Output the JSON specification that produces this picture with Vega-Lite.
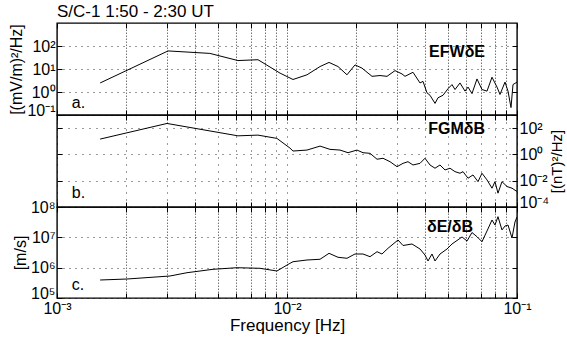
{
  "$schema": "https://vega.github.io/schema/vega-lite/v6.json",
  "padding": {"left": 8, "top": 1, "right": 0, "bottom": 3},
  "spacing": 0,
  "bounds": "flush",
  "config": {
    "font": "Liberation Sans",
    "view": {"stroke": "black", "strokeWidth": 1.4},
    "axis": {
      "labelFont": "Liberation Sans", "labelFontSize": 16, "labelColor": "black", "labelOverlap": false,
      "titleFont": "Liberation Sans", "titleFontSize": 16, "titleFontWeight": "normal", "titleColor": "black",
      "domain": false, "tickColor": "black", "tickSize": -5, "tickWidth": 1, "labelPadding": 7,
      "gridColor": "black", "gridWidth": 0.8, "labelFlush": false
    }
  },
  "datasets": {
    "efw": [
      {"f":0.00154,"v":2.47},{"f":0.00304,"v":61},{"f":0.00462,"v":47.7},{"f":0.00612,"v":23.3},{"f":0.00748,"v":25.3},
      {"f":0.00933,"v":6.6},{"f":0.01062,"v":3.5},{"f":0.01222,"v":5.6},{"f":0.01392,"v":12.8},{"f":0.01523,"v":19.3},
      {"f":0.01666,"v":12.8},{"f":0.01823,"v":5.6},{"f":0.01975,"v":15.1},{"f":0.02119,"v":10.9},{"f":0.02342,"v":4.8},
      {"f":0.02537,"v":5.2},{"f":0.02722,"v":4.8},{"f":0.02949,"v":8.5},{"f":0.03162,"v":6.1},{"f":0.03259,"v":4.8},
      {"f":0.0353,"v":7.2},{"f":0.03787,"v":2.47},{"f":0.03902,"v":2.9},{"f":0.04061,"v":0.92},{"f":0.04185,"v":0.72},
      {"f":0.04401,"v":0.32},{"f":0.04534,"v":0.56},{"f":0.04767,"v":0.72},{"f":0.05012,"v":1.39},{"f":0.05217,"v":2.1},
      {"f":0.05376,"v":1.28},{"f":0.05652,"v":2.47},{"f":0.05942,"v":1.09},{"f":0.06124,"v":1.64},{"f":0.06373,"v":0.85},
      {"f":0.067,"v":3.7},{"f":0.07044,"v":1.28},{"f":0.07406,"v":1.09},{"f":0.07786,"v":4.4},{"f":0.08185,"v":1.64},
      {"f":0.08435,"v":0.78},{"f":0.08868,"v":2.7},{"f":0.09139,"v":1.09},{"f":0.09417,"v":0.21},{"f":0.09607,"v":2.1},
      {"f":0.1,"v":2.7}
    ],
    "fgm": [
      {"f":0.00154,"v":14.7},{"f":0.003008,"v":227},{"f":0.00612,"v":26},{"f":0.00748,"v":29.5},{"f":0.00904,"v":16.6},
      {"f":0.0103,"v":3.05},{"f":0.01062,"v":1.81},{"f":0.01222,"v":2.15},{"f":0.01392,"v":4.3},{"f":0.01538,"v":2.43},
      {"f":0.017,"v":2.15},{"f":0.01842,"v":1.35},{"f":0.02015,"v":2.15},{"f":0.0214,"v":1.35},{"f":0.02296,"v":1.21},
      {"f":0.02463,"v":0.43},{"f":0.02615,"v":0.51},{"f":0.02805,"v":0.28},{"f":0.03008,"v":0.117},{"f":0.03195,"v":0.21},
      {"f":0.03358,"v":0.28},{"f":0.0353,"v":0.157},{"f":0.03787,"v":0.21},{"f":0.03981,"v":0.51},{"f":0.04185,"v":0.157},
      {"f":0.04401,"v":0.089},{"f":0.04626,"v":0.157},{"f":0.04864,"v":0.066},{"f":0.05114,"v":0.089},{"f":0.05376,"v":0.049},
      {"f":0.05652,"v":0.037},{"f":0.05824,"v":0.049},{"f":0.06124,"v":0.0155},{"f":0.06438,"v":0.0275},{"f":0.06768,"v":0.0085},
      {"f":0.07044,"v":0.037},{"f":0.07406,"v":0.0115},{"f":0.07786,"v":0.0027},{"f":0.08023,"v":0.0085},{"f":0.08267,"v":0.00113},
      {"f":0.08604,"v":0.0085},{"f":0.09049,"v":0.0036},{"f":0.09512,"v":0.0027},{"f":0.1,"v":0.0015}
    ],
    "eb": [
      {"f":0.00154,"v":392000},{"f":0.002015,"v":423000},{"f":0.0031,"v":531000},{"f":0.003674,"v":682000},{"f":0.004767,"v":883000},
      {"f":0.006063,"v":997000},{"f":0.007631,"v":953000},{"f":0.00904,"v":776000},{"f":0.0103,"v":1390000},{"f":0.01062,"v":1570000},
      {"f":0.01222,"v":1790000},{"f":0.01392,"v":1890000},{"f":0.01523,"v":2970000},{"f":0.01666,"v":2200000},{"f":0.01823,"v":2040000},
      {"f":0.01975,"v":2820000},{"f":0.0214,"v":2820000},{"f":0.02296,"v":2300000},{"f":0.02463,"v":3360000},{"f":0.02588,"v":2820000},
      {"f":0.02749,"v":4350000},{"f":0.03039,"v":8170000},{"f":0.03195,"v":5380000},{"f":0.03495,"v":6030000},{"f":0.03787,"v":4120000},
      {"f":0.03981,"v":2610000},{"f":0.04102,"v":1660000},{"f":0.0427,"v":2820000},{"f":0.04401,"v":1660000},{"f":0.04626,"v":2820000},
      {"f":0.04963,"v":4120000},{"f":0.05217,"v":6030000},{"f":0.05484,"v":7860000},{"f":0.05767,"v":10300000},{"f":0.06063,"v":7570000},
      {"f":0.06373,"v":14400000},{"f":0.067,"v":10500000},{"f":0.07044,"v":7180000},{"f":0.07406,"v":16200000},{"f":0.07786,"v":37300000},
      {"f":0.08023,"v":25500000},{"f":0.08267,"v":47900000},{"f":0.08604,"v":17500000},{"f":0.08868,"v":23600000},{"f":0.09139,"v":25500000},
      {"f":0.09512,"v":9500000},{"f":0.098,"v":32000000},{"f":0.1,"v":46800000}
    ]
  },
  "vconcat": [
    {
      "width": 460, "height": 92,
      "title": {"text": "S/C-1 1:50 - 2:30 UT", "anchor": "start", "frame": "group", "fontSize": 17, "fontWeight": "normal", "offset": 2, "color": "black", "font": "Liberation Sans"},
      "layer": [
        {
          "data": {"name": "efw"},
          "mark": {"type": "line", "color": "black", "strokeWidth": 1, "clip": true},
          "encoding": {
            "x": {"field": "f", "type": "quantitative", "scale": {"type": "log", "domain": [0.001, 0.1]},
                  "axis": {"orient": "bottom", "values": [0.001,0.002,0.003,0.004,0.005,0.006,0.007,0.008,0.009,0.01,0.02,0.03,0.04,0.05,0.06,0.07,0.08,0.09,0.1], "labels": false, "title": null, "grid": true, "gridDash": [1.5, 1.5], "gridColor": "#333", "gridOpacity": 0.85}},
            "y": {"field": "v", "type": "quantitative", "scale": {"type": "log", "domain": [0.1, 200]},
                  "axis": {"orient": "left", "values": [0.1, 1, 10, 100], "labelExpr": "datum.value >= 99 ? '10²' : datum.value >= 9 ? '10¹' : datum.value >= 0.9 ? '10⁰' : '10⁻¹'",
                           "labelBaseline": {"condition": {"test": "datum.value < 0.5", "value": "alphabetic"}, "value": "middle"},
                           "title": "[(mV/m)²/Hz]", "titlePadding": 2, "grid": true, "gridDash": [1, 5]}}
          }
        },
        {
          "data": {"name": "efw"},
          "mark": {"type": "line", "opacity": 0},
          "encoding": {
            "x": {"field": "f", "type": "quantitative", "axis": {"orient": "top", "values": [0.001,0.002,0.003,0.004,0.005,0.006,0.007,0.008,0.009,0.01,0.02,0.03,0.04,0.05,0.06,0.07,0.08,0.09,0.1], "labels": false, "title": null, "grid": false}},
            "y": {"field": "v", "type": "quantitative", "axis": {"orient": "right", "values": [0.1, 1, 10, 100], "labels": false, "title": null, "grid": false}}
          }
        },
        {
          "data": {"values": [{}]},
          "mark": {"type": "text", "align": "left", "baseline": "middle", "fontSize": 16, "color": "black"},
          "encoding": {"x": {"datum": 0.00116, "type": "quantitative", "axis": null}, "y": {"datum": 0.32, "type": "quantitative", "axis": null}, "text": {"value": "a."}}
        },
        {
          "data": {"values": [{}]},
          "mark": {"type": "text", "align": "right", "baseline": "middle", "fontSize": 16, "fontWeight": "bold", "color": "black"},
          "encoding": {"x": {"datum": 0.0726, "type": "quantitative", "axis": null}, "y": {"datum": 56, "type": "quantitative", "axis": null}, "text": {"value": "EFWδE"}}
        }
      ],
      "resolve": {"axis": {"x": "independent", "y": "independent"}}
    },
    {
      "width": 460, "height": 92,
      "layer": [
        {
          "data": {"name": "fgm"},
          "mark": {"type": "line", "color": "black", "strokeWidth": 1, "clip": true},
          "encoding": {
            "x": {"field": "f", "type": "quantitative", "scale": {"type": "log", "domain": [0.001, 0.1]},
                  "axis": {"orient": "bottom", "values": [0.001,0.002,0.003,0.004,0.005,0.006,0.007,0.008,0.009,0.01,0.02,0.03,0.04,0.05,0.06,0.07,0.08,0.09,0.1], "labels": false, "title": null, "grid": true, "gridDash": [1, 6], "gridOpacity": 1}},
            "y": {"field": "v", "type": "quantitative", "scale": {"type": "log", "domain": [0.0001, 1000]},
                  "axis": {"orient": "right", "values": [0.0001, 0.01, 1, 100], "labelExpr": "datum.value >= 99 ? '10²' : datum.value >= 0.9 ? '10⁰' : datum.value >= 0.009 ? '10⁻²' : '10⁻⁴'",
                           "labelBaseline": {"condition": {"test": "datum.value < 0.001", "value": "alphabetic"}, "value": "middle"},
                           "title": "[(nT)²/Hz]", "titleFontSize": 15, "titleAngle": 270, "titleBaseline": "top", "titlePadding": 1, "grid": true, "gridDash": [1, 6]}}
          }
        },
        {
          "data": {"name": "fgm"},
          "mark": {"type": "line", "opacity": 0},
          "encoding": {
            "x": {"field": "f", "type": "quantitative", "axis": {"orient": "top", "values": [0.001,0.002,0.003,0.004,0.005,0.006,0.007,0.008,0.009,0.01,0.02,0.03,0.04,0.05,0.06,0.07,0.08,0.09,0.1], "labels": false, "title": null, "grid": false}},
            "y": {"field": "v", "type": "quantitative", "axis": {"orient": "left", "values": [0.0001, 0.01, 1, 100], "labels": false, "title": null, "grid": false}}
          }
        },
        {
          "data": {"values": [{}]},
          "mark": {"type": "text", "align": "left", "baseline": "middle", "fontSize": 16, "color": "black"},
          "encoding": {"x": {"datum": 0.00116, "type": "quantitative", "axis": null}, "y": {"datum": 0.0012, "type": "quantitative", "axis": null}, "text": {"value": "b."}}
        },
        {
          "data": {"values": [{}]},
          "mark": {"type": "text", "align": "right", "baseline": "middle", "fontSize": 16, "fontWeight": "bold", "color": "black"},
          "encoding": {"x": {"datum": 0.0726, "type": "quantitative", "axis": null}, "y": {"datum": 84, "type": "quantitative", "axis": null}, "text": {"value": "FGMδB"}}
        }
      ],
      "resolve": {"axis": {"x": "independent", "y": "independent"}}
    },
    {
      "width": 460, "height": 91,
      "layer": [
        {
          "data": {"name": "eb"},
          "mark": {"type": "line", "color": "black", "strokeWidth": 1, "clip": true},
          "encoding": {
            "x": {"field": "f", "type": "quantitative", "scale": {"type": "log", "domain": [0.001, 0.1]},
                  "axis": {"orient": "bottom", "values": [0.001,0.002,0.003,0.004,0.005,0.006,0.007,0.008,0.009,0.01,0.02,0.03,0.04,0.05,0.06,0.07,0.08,0.09,0.1], "labelExpr": "datum.value == 0.001 ? '10⁻³' : datum.value == 0.01 ? '10⁻²' : datum.value == 0.1 ? '10⁻¹' : ''", "title": "Frequency [Hz]", "titleFontSize": 17, "titlePadding": 1, "grid": true, "gridDash": [1.5, 1.5], "gridColor": "#333", "gridOpacity": 0.85}},
            "y": {"field": "v", "type": "quantitative", "scale": {"type": "log", "domain": [100000, 100000000]},
                  "axis": {"orient": "left", "values": [100000, 1000000, 10000000, 100000000], "labelExpr": "datum.value >= 9e7 ? '10⁸' : datum.value >= 9e6 ? '10⁷' : datum.value >= 9e5 ? '10⁶' : '10⁵'",
                           "labelBaseline": {"condition": {"test": "datum.value < 500000", "value": "alphabetic"}, "value": "middle"},
                           "title": "[m/s]", "titlePadding": 2, "grid": true, "gridDash": [1, 5]}}
          }
        },
        {
          "data": {"name": "eb"},
          "mark": {"type": "line", "opacity": 0},
          "encoding": {
            "x": {"field": "f", "type": "quantitative", "axis": {"orient": "top", "values": [0.001,0.002,0.003,0.004,0.005,0.006,0.007,0.008,0.009,0.01,0.02,0.03,0.04,0.05,0.06,0.07,0.08,0.09,0.1], "labels": false, "title": null, "grid": false}},
            "y": {"field": "v", "type": "quantitative", "axis": {"orient": "right", "values": [100000, 1000000, 10000000, 100000000], "labels": false, "title": null, "grid": false}}
          }
        },
        {
          "data": {"values": [{}]},
          "mark": {"type": "text", "align": "left", "baseline": "middle", "fontSize": 16, "color": "black"},
          "encoding": {"x": {"datum": 0.00116, "type": "quantitative", "axis": null}, "y": {"datum": 268000, "type": "quantitative", "axis": null}, "text": {"value": "c."}}
        },
        {
          "data": {"values": [{}]},
          "mark": {"type": "text", "align": "right", "baseline": "middle", "fontSize": 16, "fontWeight": "bold", "color": "black"},
          "encoding": {"x": {"datum": 0.0644, "type": "quantitative", "axis": null}, "y": {"datum": 21900000, "type": "quantitative", "axis": null}, "text": {"value": "δE/δB"}}
        }
      ],
      "resolve": {"axis": {"x": "independent", "y": "independent"}}
    }
  ]
}
